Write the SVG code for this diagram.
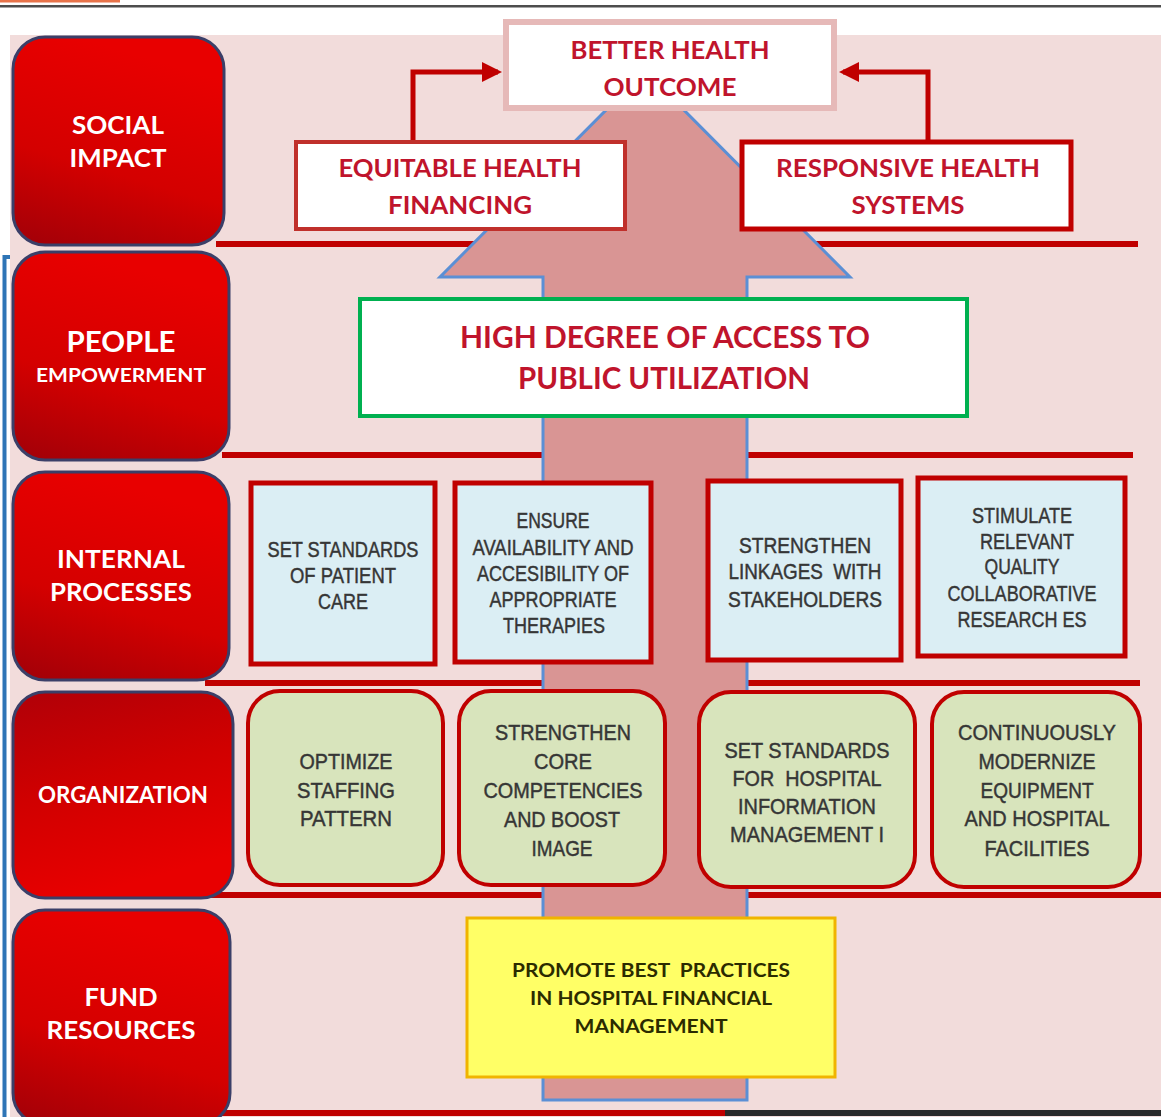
<svg xmlns="http://www.w3.org/2000/svg" width="1161" height="1117" viewBox="0 0 1161 1117">
<defs>
<linearGradient id="redg" x1="0.3" y1="0" x2="0" y2="1">
<stop offset="0" stop-color="#e80000"/>
<stop offset="0.55" stop-color="#d40000"/>
<stop offset="1" stop-color="#a00008"/>
</linearGradient>
<linearGradient id="redg2" x1="0" y1="0" x2="0.3" y2="1">
<stop offset="0" stop-color="#b00008"/>
<stop offset="0.5" stop-color="#d00000"/>
<stop offset="1" stop-color="#e80000"/>
</linearGradient>
<marker id="ah" viewBox="0 0 10 10" refX="8" refY="5" markerWidth="4" markerHeight="4" orient="auto" markerUnits="strokeWidth">
<path d="M0,0 L10,5 L0,10 Z" fill="#c00000"/>
</marker>
<style>
.side{stroke:#3b3f68;stroke-width:3}
.stxt{font-family:Lato,"Open Sans","Liberation Sans",sans-serif;font-weight:bold;fill:#ffffff;text-anchor:middle}
.rtxt{font-family:Lato,"Open Sans","Liberation Sans",sans-serif;font-weight:bold;fill:#c0142c;text-anchor:middle}
.gtxt{font-family:"Liberation Sans",Arial,sans-serif;font-size:22px;fill:#363636;stroke:#363636;stroke-width:0.45;text-anchor:middle;white-space:pre}
.ytxt{font-family:Lato,"Open Sans","Liberation Sans",sans-serif;font-weight:bold;font-size:19px;fill:#2b2b00;text-anchor:middle;white-space:pre}
.hline{stroke:#c00000;stroke-width:6;fill:none}
.ipbox{fill:#dbeef4;stroke:#c00000;stroke-width:5}
.orgbox{fill:#d8e4bc;stroke:#c00000;stroke-width:4}
.conn{stroke:#c00000;stroke-width:5;fill:none}
</style>
</defs>

<!-- background -->
<rect x="0" y="0" width="1161" height="1117" fill="#ffffff"/>
<rect x="0" y="0" width="120" height="2.5" fill="#e8734a"/>
<rect x="0" y="5" width="1161" height="2.5" fill="#4d4d4d"/>
<rect x="10" y="35" width="1151" height="1082" fill="#f2dcdb"/>
<path d="M10,257 L4.5,257 L4.5,1117" fill="none" stroke="#2e75b6" stroke-width="4"/>

<!-- horizontal band lines -->
<g id="bands">
<line class="hline" x1="216" y1="244" x2="1138" y2="244"/>
<line class="hline" x1="222" y1="455" x2="1133" y2="455"/>
<line class="hline" x1="205" y1="683" x2="1140" y2="683"/>
<line class="hline" x1="205" y1="895" x2="1161" y2="895"/>
<line class="hline" x1="210" y1="1113" x2="725" y2="1113"/>
<line x1="725" y1="1113" x2="1161" y2="1113" stroke="#2a2a2a" stroke-width="6"/>
</g>

<!-- big arrow -->
<g id="big-arrow">
<path d="M543,1100 L543,277 L440,277 L645,71 L850,277 L747,277 L747,1100 Z" fill="#d99594" stroke="#5b8fd5" stroke-width="3"/>
</g>

<!-- left category boxes -->
<g id="social-impact">
<rect class="side" x="13" y="37" width="211" height="208" rx="32" fill="url(#redg)"/>
<text class="stxt" font-size="24" x="118" y="134" textLength="92" lengthAdjust="spacingAndGlyphs">SOCIAL</text>
<text class="stxt" font-size="24" x="118" y="167" textLength="97" lengthAdjust="spacingAndGlyphs">IMPACT</text>
</g>
<g id="people-empowerment">
<rect class="side" x="13" y="252" width="216" height="208" rx="32" fill="url(#redg)"/>
<text class="stxt" font-size="29" x="121" y="352" textLength="109" lengthAdjust="spacingAndGlyphs">PEOPLE</text>
<text class="stxt" font-size="19" x="121" y="382" textLength="170" lengthAdjust="spacingAndGlyphs">EMPOWERMENT</text>
</g>
<g id="internal-processes">
<rect class="side" x="13" y="472" width="216" height="208" rx="32" fill="url(#redg)"/>
<text class="stxt" font-size="24" x="121" y="568" textLength="128" lengthAdjust="spacingAndGlyphs">INTERNAL</text>
<text class="stxt" font-size="24" x="121" y="601" textLength="142" lengthAdjust="spacingAndGlyphs">PROCESSES</text>
</g>
<g id="organization">
<rect class="side" x="13" y="692" width="220" height="206" rx="32" fill="url(#redg2)"/>
<text class="stxt" font-size="22" x="123" y="803" textLength="170" lengthAdjust="spacingAndGlyphs">ORGANIZATION</text>
</g>
<g id="fund-resources">
<rect class="side" x="13" y="910" width="217" height="215" rx="32" fill="url(#redg)"/>
<text class="stxt" font-size="24" x="121" y="1006" textLength="73" lengthAdjust="spacingAndGlyphs">FUND</text>
<text class="stxt" font-size="24" x="121" y="1039" textLength="149" lengthAdjust="spacingAndGlyphs">RESOURCES</text>
</g>

<!-- social impact row -->
<g id="better-health-outcome">
<rect x="506" y="22" width="328" height="86" fill="#ffffff" stroke="#e6b9b8" stroke-width="6"/>
<text class="rtxt" font-size="25" x="670" y="59" textLength="199" lengthAdjust="spacingAndGlyphs">BETTER HEALTH</text>
<text class="rtxt" font-size="25" x="670" y="96" textLength="133" lengthAdjust="spacingAndGlyphs">OUTCOME</text>
</g>
<g id="equitable-health-financing">
<rect x="296" y="142" width="329" height="87" fill="#ffffff" stroke="#c0302b" stroke-width="4"/>
<text class="rtxt" font-size="25" x="460" y="177" textLength="243" lengthAdjust="spacingAndGlyphs">EQUITABLE HEALTH</text>
<text class="rtxt" font-size="25" x="460" y="214" textLength="144" lengthAdjust="spacingAndGlyphs">FINANCING</text>
</g>
<g id="responsive-health-systems">
<rect x="742" y="142" width="329" height="87" fill="#ffffff" stroke="#c00000" stroke-width="5"/>
<text class="rtxt" font-size="25" x="908" y="177" textLength="264" lengthAdjust="spacingAndGlyphs">RESPONSIVE HEALTH</text>
<text class="rtxt" font-size="25" x="908" y="214" textLength="113" lengthAdjust="spacingAndGlyphs">SYSTEMS</text>
</g>

<!-- people empowerment row -->
<g id="high-degree-access">
<rect x="360" y="299" width="607" height="117" fill="#ffffff" stroke="#00b050" stroke-width="4"/>
<text class="rtxt" font-size="31" x="665" y="348" textLength="410" lengthAdjust="spacingAndGlyphs">HIGH DEGREE OF ACCESS TO</text>
<text class="rtxt" font-size="31" x="664" y="389" textLength="292" lengthAdjust="spacingAndGlyphs">PUBLIC UTILIZATION</text>
</g>

<!-- internal processes row -->
<g id="set-standards-patient-care">
<rect class="ipbox" x="251" y="483" width="184" height="181"/>
<text class="gtxt" x="343" y="557" textLength="151" lengthAdjust="spacingAndGlyphs">SET STANDARDS</text>
<text class="gtxt" x="343" y="583" textLength="106" lengthAdjust="spacingAndGlyphs">OF PATIENT</text>
<text class="gtxt" x="343" y="609" textLength="50" lengthAdjust="spacingAndGlyphs">CARE</text>
</g>
<g id="ensure-availability">
<rect class="ipbox" x="455" y="483" width="196" height="179"/>
<text class="gtxt" x="553" y="528" textLength="73" lengthAdjust="spacingAndGlyphs">ENSURE</text>
<text class="gtxt" x="553" y="555" textLength="161" lengthAdjust="spacingAndGlyphs">AVAILABILITY AND</text>
<text class="gtxt" x="553" y="581" textLength="152" lengthAdjust="spacingAndGlyphs">ACCESIBILITY OF</text>
<text class="gtxt" x="553" y="607" textLength="127" lengthAdjust="spacingAndGlyphs">APPROPRIATE</text>
<text class="gtxt" x="554" y="633" textLength="102" lengthAdjust="spacingAndGlyphs">THERAPIES</text>
</g>
<g id="strengthen-linkages">
<rect class="ipbox" x="708" y="481" width="193" height="179"/>
<text class="gtxt" x="805" y="553" textLength="132" lengthAdjust="spacingAndGlyphs">STRENGTHEN</text>
<text class="gtxt" x="805" y="579" textLength="153" lengthAdjust="spacingAndGlyphs">LINKAGES  WITH</text>
<text class="gtxt" x="805" y="607" textLength="154" lengthAdjust="spacingAndGlyphs">STAKEHOLDERS</text>
</g>
<g id="stimulate-research">
<rect class="ipbox" x="918" y="478" width="207" height="178"/>
<text class="gtxt" x="1022" y="523" textLength="100" lengthAdjust="spacingAndGlyphs">STIMULATE</text>
<text class="gtxt" x="1027" y="549" textLength="94" lengthAdjust="spacingAndGlyphs">RELEVANT</text>
<text class="gtxt" x="1022" y="574" textLength="75" lengthAdjust="spacingAndGlyphs">QUALITY</text>
<text class="gtxt" x="1022" y="601" textLength="149" lengthAdjust="spacingAndGlyphs">COLLABORATIVE</text>
<text class="gtxt" x="1022" y="627" textLength="129" lengthAdjust="spacingAndGlyphs">RESEARCH ES</text>
</g>

<!-- organization row -->
<g id="optimize-staffing">
<rect class="orgbox" x="248" y="691" width="195" height="194" rx="32" stroke="#9e4a4a" stroke-width="3"/>
<text class="gtxt" x="346" y="769" textLength="93" lengthAdjust="spacingAndGlyphs">OPTIMIZE</text>
<text class="gtxt" x="346" y="798" textLength="98" lengthAdjust="spacingAndGlyphs">STAFFING</text>
<text class="gtxt" x="346" y="826" textLength="92" lengthAdjust="spacingAndGlyphs">PATTERN</text>
</g>
<g id="strengthen-core">
<rect class="orgbox" x="459" y="691" width="206" height="194" rx="32"/>
<text class="gtxt" x="563" y="740" textLength="136" lengthAdjust="spacingAndGlyphs">STRENGTHEN</text>
<text class="gtxt" x="563" y="769" textLength="58" lengthAdjust="spacingAndGlyphs">CORE</text>
<text class="gtxt" x="563" y="798" textLength="159" lengthAdjust="spacingAndGlyphs">COMPETENCIES</text>
<text class="gtxt" x="562" y="827" textLength="116" lengthAdjust="spacingAndGlyphs">AND BOOST</text>
<text class="gtxt" x="562" y="856" textLength="61" lengthAdjust="spacingAndGlyphs">IMAGE</text>
</g>
<g id="set-standards-information">
<rect class="orgbox" x="699" y="692" width="216" height="195" rx="32"/>
<text class="gtxt" x="807" y="758" textLength="165" lengthAdjust="spacingAndGlyphs">SET STANDARDS</text>
<text class="gtxt" x="807" y="786" textLength="149" lengthAdjust="spacingAndGlyphs">FOR  HOSPITAL</text>
<text class="gtxt" x="807" y="814" textLength="138" lengthAdjust="spacingAndGlyphs">INFORMATION</text>
<text class="gtxt" x="807" y="842" textLength="154" lengthAdjust="spacingAndGlyphs">MANAGEMENT I</text>
</g>
<g id="modernize-equipment">
<rect class="orgbox" x="932" y="692" width="208" height="195" rx="32"/>
<text class="gtxt" x="1037" y="740" textLength="158" lengthAdjust="spacingAndGlyphs">CONTINUOUSLY</text>
<text class="gtxt" x="1037" y="769" textLength="117" lengthAdjust="spacingAndGlyphs">MODERNIZE</text>
<text class="gtxt" x="1037" y="798" textLength="113" lengthAdjust="spacingAndGlyphs">EQUIPMENT</text>
<text class="gtxt" x="1037" y="826" textLength="145" lengthAdjust="spacingAndGlyphs">AND HOSPITAL</text>
<text class="gtxt" x="1037" y="856" textLength="105" lengthAdjust="spacingAndGlyphs">FACILITIES</text>
</g>

<!-- fund resources row -->
<g id="promote-best-practices">
<rect x="467" y="918" width="368" height="159" fill="#ffff66" stroke="#f0b400" stroke-width="3"/>
<text class="ytxt" x="651" y="977" textLength="278" lengthAdjust="spacingAndGlyphs">PROMOTE BEST  PRACTICES</text>
<text class="ytxt" x="651" y="1005" textLength="242" lengthAdjust="spacingAndGlyphs">IN HOSPITAL FINANCIAL</text>
<text class="ytxt" x="651" y="1033" textLength="153" lengthAdjust="spacingAndGlyphs">MANAGEMENT</text>
</g>

<!-- connectors -->
<g id="connectors">
<path class="conn" d="M413,140 L413,72 L498,72" marker-end="url(#ah)"/>
<path class="conn" d="M928,140 L928,72 L843,72" marker-end="url(#ah)"/>
</g>
</svg>
